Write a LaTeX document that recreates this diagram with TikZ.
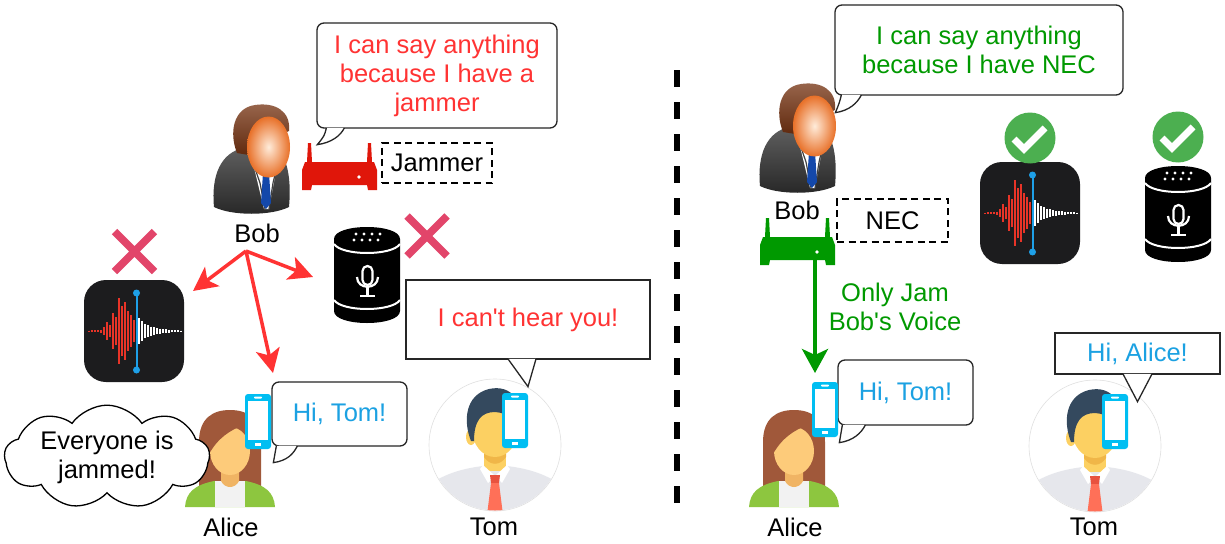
\documentclass[tikz,border=0pt]{standalone}
\usepackage{fontspec}
\setmainfont{Liberation Sans}
\usepackage{tikz}
\usetikzlibrary{arrows.meta, shapes.symbols, calc}

\definecolor{talkred}{RGB}{255,51,51}
\definecolor{talkgreen}{RGB}{0,153,0}
\definecolor{talkblue}{RGB}{27,161,226}
\definecolor{jamred}{RGB}{224,22,10}
\definecolor{crossred}{RGB}{226,69,106}
\definecolor{okgreen}{RGB}{76,175,80}
\definecolor{phoneblue}{RGB}{0,190,242}
\definecolor{memobg}{RGB}{28,28,30}
\definecolor{wavered}{RGB}{232,52,40}
\definecolor{memoblue}{RGB}{30,160,232}
\definecolor{suitgray}{RGB}{95,95,95}
\definecolor{tieblue}{RGB}{20,72,170}
\definecolor{bobhair}{RGB}{120,52,18}
\definecolor{facein}{RGB}{255,236,218}
\definecolor{faceout}{RGB}{232,112,40}
\definecolor{alicehair}{RGB}{160,88,58}
\definecolor{skin}{RGB}{253,203,122}
\definecolor{skindark}{RGB}{240,180,100}
\definecolor{alicegreen}{RGB}{141,198,63}
\definecolor{tomhair}{RGB}{52,73,94}
\definecolor{tomskin}{RGB}{252,208,98}
\definecolor{tomshade}{RGB}{240,182,72}
\definecolor{tomshirt}{RGB}{230,231,236}
\definecolor{tietom}{RGB}{255,112,88}
\definecolor{tieknot}{RGB}{232,82,63}

\newcommand{\talkfont}{\fontsize{25.5}{29}\selectfont}

\begin{document}
\begin{tikzpicture}[
    x=1pt, y=-1pt,
    talk/.style={draw=black!85, line width=1.3, fill=white, rounded corners=7, inner sep=0, align=center, font=\talkfont},
    saybox/.style={draw=black!85, line width=1.3, fill=white, inner sep=0, align=center, font=\talkfont},
    tagbox/.style={draw=black, line width=2.3, dash pattern=on 7pt off 4.5pt, inner sep=0, font=\talkfont},
    lbl/.style={inner sep=0, font=\talkfont},
    tail/.style={draw=black!85, line width=1.3, fill=white},
    jamflow/.style={-{Stealth[length=24pt, width=24pt, inset=6pt]}, draw=talkred, line width=3.5},
    necflow/.style={-{Stealth[length=24pt, width=26pt, inset=6pt]}, draw=talkgreen, line width=4},
    % small phone held to the ear
    phone/.pic={
        \fill[phoneblue, rounded corners=3] (0,0) rectangle (26,55);
        \fill[white] (3,7) rectangle (23,46);
        \fill[white, rounded corners=0.8] (9,2.5) rectangle (17,4.5);
        \fill[white] (10,49) rectangle (16,52);
    },
    % wifi box with two antennas, colour from the pic options
    router/.pic={
        \fill (5,19) -- (6,0) -- (9,0) -- (10,19) -- (65,19) -- (66,0) -- (69,0) -- (70,19) -- (72,19)
            -- (75,27) -- (75,47) -- (66,47) -- (65,42) -- (10,42) -- (9,47) -- (0,47) -- (0,27) -- (3,19) -- cycle;
        \fill[white] (57,34) circle (1.8);
    },
    % smart speaker
    speaker/.pic={
        \fill[black] (0,12) -- (0,84) .. controls (0,100) and (66,100) .. (66,84) -- (66,12)
            .. controls (66,-4) and (0,-4) .. (0,12) -- cycle;
        \draw[white, line width=2] (0,17) .. controls (8,29) and (58,29) .. (66,17);
        \draw[white, line width=2] (0,73) .. controls (8,85) and (58,85) .. (66,73);
        \foreach \x in {22,30,38,46} \fill[white] (\x,7) circle (1.7);
        \foreach \x in {22,30,38,46} \fill[white] (\x-2,13) circle (1.7);
        \draw[white, line width=2.2, rounded corners=5] (28.5,39) rectangle (38.5,58);
        \draw[white, line width=2.2] (23,50) .. controls (23,63) and (44,63) .. (44,50);
        \draw[white, line width=2.2] (33.5,60) -- (33.5,69) (26,69) -- (41,69);
    },
    % voice memo app icon
    voicememo/.pic={
        \fill[memobg, rounded corners=22] (0,0) rectangle (100,102);
        \foreach \x/\h in {5/1,8/1.5,11/1.5,14/2,17/3,20/8,23/18,26/12,29/36,32/28,35/66,38/50,41/58,44/40,47/32,50/22}
            \draw[wavered, line width=1.8] (\x,{51-\h/2}) -- (\x,{51+\h/2});
        \foreach \x/\h in {55/26,58/20,61/14,64/12,67/9,70/8,73/6,76/5,79/4,82/3.5,85/3,88/2,91/2,94/1.5,97/1}
            \draw[white, line width=1.8] (\x,{51-\h/2}) -- (\x,{51+\h/2});
        \draw[memoblue, line width=2] (52.5,13) -- (52.5,90);
        \fill[memoblue] (52.5,13) circle (3.5) (52.5,90) circle (3.5);
    },
    crossmark/.pic={
        \draw[crossred, line width=7.5] (-20,-20) -- (20,20) (-20,20) -- (20,-20);
    },
    checkmark/.pic={
        \fill[okgreen] (0,0) circle (25.5);
        \draw[white, line width=7, line join=miter] (-16,1) -- (-6,11) -- (15,-10);
    },
    % Bob in a suit
    bobman/.pic={
        \shade[top color=suitgray, bottom color=black!85] (1,104) .. controls (-2,72) and (8,50) .. (30,45) -- (62,45)
            .. controls (72,50) and (79,70) .. (76,104) .. controls (58,113) and (19,113) .. (1,104) -- cycle;
        \fill[white] (38,52) -- (66,52) -- (56,106) -- (51,106) -- cycle;
        \draw[black!75, line width=1.2] (37,51) -- (47,80) -- (52,106) (67,51) -- (60,80) -- (56,106);
        \fill[tieblue] (50,70) -- (56,70) -- (58,100) -- (53,106) -- (48,100) -- cycle;
        \shade[top color=bobhair!75!white, bottom color=bobhair!80!black] (24,50) .. controls (16,30) and (20,5) .. (42,2)
            .. controls (62,-1) and (78,8) .. (76,28) -- (58,36) -- (36,52) -- cycle;
        \shade[inner color=facein, outer color=faceout] (55.5,44) ellipse (21.5 and 30.5);
    },
    % Alice
    alicewoman/.pic={
        \fill[alicehair] (-31,80) -- (-31,32) .. controls (-31,8) and (-17,0) .. (0,0) .. controls (17,0) and (31,8) .. (31,32) -- (31,80) -- cycle;
        \fill[alicegreen] (-45,97) .. controls (-44,82) and (-35,75) .. (-16,71) -- (16,71) .. controls (35,75) and (44,82) .. (45,97) -- cycle;
        \fill[white!95!black] (-15,71) rectangle (15,97);
        \fill[skindark] (-9,50) -- (9,50) -- (9,71) .. controls (5,79) and (-5,79) .. (-9,71) -- cycle;
        \fill[skin] (0,41) ellipse (20 and 24);
        \fill[alicehair] (-21,44) .. controls (-21,20) and (-8,14) .. (14,15) .. controls (0,20) and (-12,28) .. (-21,44) -- cycle;
    },
    % Tom in his round badge
    tomman/.pic={
        \fill[white] (0,0) circle (66);
        \draw[black!12, line width=0.6] (0,0) circle (66);
        \begin{scope}
            \clip (0,0) circle (65.5);
            \fill[tomshirt] (-70,70) -- (-66,40) .. controls (-48,27) and (-28,23) .. (-12,21) -- (12,21)
                .. controls (28,23) and (48,27) .. (66,40) -- (70,70) -- cycle;
            \fill[tomskin] (-11,-2) rectangle (11,26);
            \fill[tomshade] (-11,8) -- (11,8) -- (11,12) .. controls (5,21) and (-5,21) .. (-11,12) -- cycle;
            \fill[white] (-12,20) -- (0,31) -- (-7,38) -- (-15,24) -- cycle;
            \fill[white] (12,20) -- (0,31) -- (7,38) -- (15,24) -- cycle;
            \fill[tieknot] (-5,30) -- (5,30) -- (4,38) -- (-4,38) -- cycle;
            \fill[tietom] (-4,38) -- (4,38) -- (8,70) -- (-8,70) -- cycle;
        \end{scope}
        \fill[tomskin] (-24,-8) ellipse (5 and 8);
        \fill[tomskin] (24,-8) ellipse (5 and 8);
        \fill[tomskin] (0,-16) ellipse (23 and 28);
        \fill[tomhair] (-24,-4) .. controls (-32,-24) and (-30,-50) .. (-6,-56) .. controls (16,-61) and (32,-44) .. (26,-8)
            .. controls (24,-24) and (14,-32) .. (0,-33) .. controls (-14,-33) and (-21,-24) .. (-21,-4) -- cycle;
    },
]

    \fill[white] (0,0) rectangle (1225,543);
    \useasboundingbox (0,0) rectangle (1225,543);

    % ===== left: a plain jammer =====

    % Bob and his jammer
    \pic at (213,103) {bobman};
    \node[lbl] (bobL) at (257,233) {Bob};
    \pic[color=jamred] at (302,143) {router};
    \node[tagbox, minimum width=110, minimum height=40] (jamtag) at (437,163) {Jammer};

    \node[talk, text=talkred, minimum width=240, minimum height=105] (jamsay) at (437,75.5) {I can say anything\\because I have a\\jammer};
    \draw[tail] ($(jamsay.south west)+(10,-0.7)$) .. controls +(-2,8) .. ($(jamsay.south west)+(1,16)$)
        .. controls +(14,-2) and +(-4,8) .. ($(jamsay.south west)+(28,-0.7)$);

    % devices that get jammed
    \pic at (84,280) {voicememo};
    \pic at (134.5,251.5) {crossmark};
    \pic at (334,227) {speaker};
    \pic at (427,236) {crossmark};

    % Alice
    \pic at (230,410) {alicewoman};
    \node[lbl] (aliceL) at (231,527) {Alice};
    \node[talk, text=talkblue, minimum width=135, minimum height=64] (alicesayL) at (339.5,414) {Hi, Tom!};
    \draw[tail] ($(alicesayL.south west)+(5,-0.7)$) .. controls +(-1,8) .. ($(alicesayL.south west)+(2,16)$)
        .. controls +(14,-2) and +(-4,8) .. ($(alicesayL.south west)+(26,-0.7)$);
    \pic at (245,394) {phone};
    \node[cloud, draw=black, line width=1.3, fill=white, cloud puffs=9, cloud puff arc=110, cloud ignores aspect,
        minimum width=205, minimum height=100, align=center, font=\talkfont, inner sep=0] (jamthought) at (107,457) {Everyone is\\jammed!};

    % Tom
    \pic at (495,445) {tomman};
    \pic at (502,393) {phone};
    \node[lbl] (tomL) at (494,527) {Tom};
    \node[saybox, text=talkred, minimum width=244, minimum height=79] (tomsayL) at (528,319.5) {I can{\textquotesingle}t hear you!};
    \draw[tail] ($(tomsayL.south)+(-20,-0.7)$) -- ($(tomsayL.south)+(0,27)$) -- ($(tomsayL.south)+(8,-0.7)$);

    % jamming reaches everything
    \coordinate (jamsrc) at (246,251);
    \coordinate (memohit) at (193,291);
    \coordinate (speakerhit) at (313,277);
    \coordinate (phonehit) at (273,373);
    \draw[jamflow] (jamsrc) -- (memohit);
    \draw[jamflow] (jamsrc) -- (speakerhit);
    \draw[jamflow] (jamsrc) -- (phonehit);

    % divider
    \draw[line width=5.5, dash pattern=on 17pt off 15pt] (677,70) -- (677,507);

    % ===== right: NEC =====

    \pic at (759,82) {bobman};
    \node[lbl] (bobR) at (797,210) {Bob};
    \pic[color=talkgreen] at (760,218) {router};
    \node[tagbox, minimum width=111, minimum height=43] (nectag) at (892.5,220.5) {NEC};

    \node[talk, text=talkgreen, minimum width=288, minimum height=90] (necsay) at (979,50) {I can say anything\\because I have NEC};
    \draw[tail] ($(necsay.south west)+(7,-0.7)$) .. controls +(-2,8) .. ($(necsay.south west)+(1,17)$)
        .. controls +(14,-2) and +(-4,8) .. ($(necsay.south west)+(27,-0.7)$);

    % devices keep working
    \pic at (980,162) {voicememo};
    \pic at (1030,138) {checkmark};
    \pic at (1145,166) {speaker};
    \pic at (1178,137) {checkmark};

    % only Bob's voice is jammed
    \coordinate (necsrc) at (815,260);
    \coordinate (necphone) at (815,373);
    \draw[necflow] (necsrc) -- (necphone);
    \node[lbl, text=talkgreen, align=center] (onlyjam) at (895,307) {Only Jam\\Bob{\textquotesingle}s Voice};

    % Alice
    \pic at (794,410) {alicewoman};
    \node[lbl] (aliceR) at (795,527) {Alice};
    \node[talk, text=talkblue, minimum width=135, minimum height=65] (alicesayR) at (905.5,392.5) {Hi, Tom!};
    \draw[tail] ($(alicesayR.south west)+(5,-0.7)$) .. controls +(-1,8) .. ($(alicesayR.south west)+(2,17)$)
        .. controls +(14,-2) and +(-4,8) .. ($(alicesayR.south west)+(28,-0.7)$);
    \pic at (812,382) {phone};

    % Tom
    \pic at (1095,446) {tomman};
    \pic at (1102,394) {phone};
    \node[lbl] (tomR) at (1094,527) {Tom};
    \node[saybox, text=talkblue, minimum width=165, minimum height=41] (tomsayR) at (1137.5,353.5) {Hi, Alice!};
    \draw[tail] ($(tomsayR.south)+(-14.5,-0.7)$) -- ($(tomsayR.south)+(0,27)$) -- ($(tomsayR.south)+(14.5,-0.7)$);

\end{tikzpicture}
\end{document}
